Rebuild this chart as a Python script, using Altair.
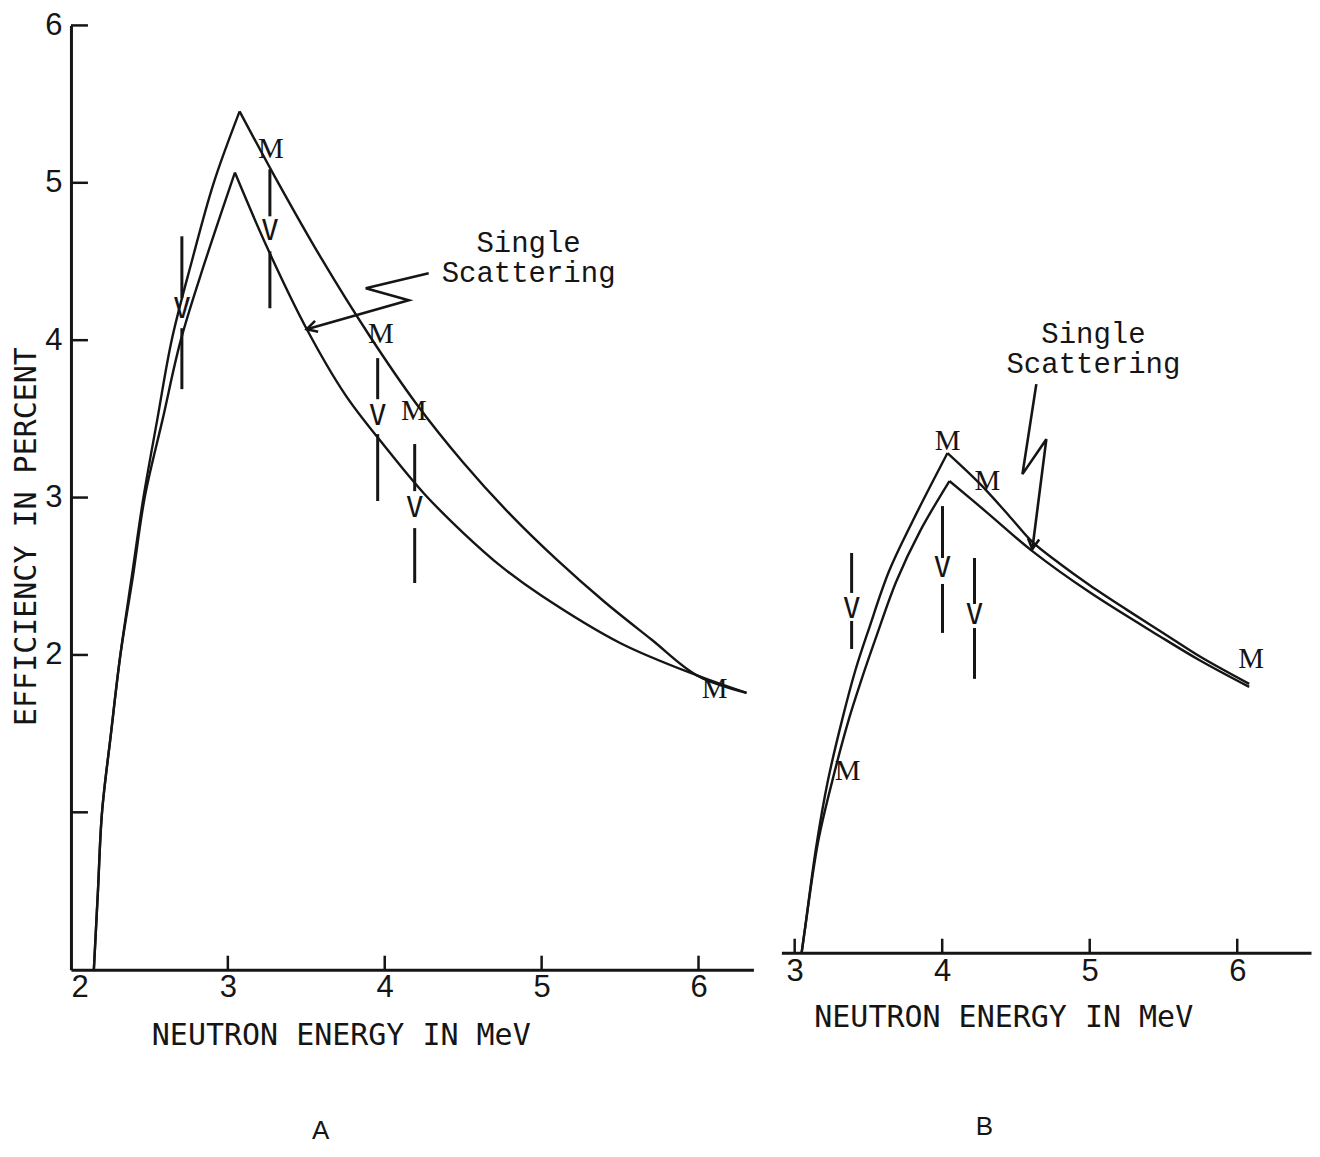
import altair as alt
import pandas as pd

INK = "#151515"

# ---------------- Panel A ----------------
A_UP_L_X = [2.146, 2.172, 2.198, 2.255, 2.315, 2.388, 2.462, 2.551, 2.642, 2.77, 2.91, 3.075]
A_UP_L_Y = [0.0, 0.5, 1.0, 1.5, 2.0, 2.5, 3.0, 3.5, 4.0, 4.5, 5.0, 5.454]
A_UP_R_X = [3.075, 3.3, 3.6, 3.9, 4.2, 4.5, 4.8, 5.1, 5.4, 5.7, 5.99, 6.306]
A_UP_R_Y = [5.454, 5.038, 4.513, 4.033, 3.598, 3.223, 2.893, 2.602, 2.338, 2.098, 1.87, 1.759]
A_LO_L_X = [2.146, 2.172, 2.198, 2.255, 2.315, 2.395, 2.47, 2.585, 2.70, 2.855, 3.045]
A_LO_L_Y = [0.0, 0.5, 1.0, 1.5, 2.0, 2.5, 3.0, 3.5, 4.0, 4.5, 5.065]
A_LO_R_X = [3.045, 3.25, 3.5, 3.75, 4.0, 4.25, 4.5, 4.75, 5.0, 5.5, 5.99, 6.306]
A_LO_R_Y = [5.065, 4.59, 4.076, 3.651, 3.326, 3.026, 2.776, 2.556, 2.376, 2.076, 1.87, 1.759]

A_M_X = [3.274, 3.975, 4.185, 6.102]
A_M_Y = [5.213, 4.038, 3.549, 1.784]

A_V_X = [2.707, 3.268, 3.955, 4.191]
A_V_TOP1 = [4.66, 5.086, 3.886, 3.34]
A_V_TOP2 = [4.267, 4.787, 3.625, 3.041]
A_V_MID = [4.197, 4.692, 3.517, 2.933]
A_V_BOT1 = [4.076, 4.565, 3.403, 2.806]
A_V_BOT2 = [3.689, 4.203, 2.978, 2.457]

A_NOTE = ["Single\nScattering"]
A_NOTE_X = [4.917]
A_NOTE_Y = [4.62]
A_ARROW_X = [4.28, 3.879, 4.153, 3.503]
A_ARROW_Y = [4.425, 4.33, 4.254, 4.07]

A_XTICKS = [3, 4, 5, 6]
A_YTICKS = [1, 2, 3, 4, 5, 6]
A_XLABELS = [2, 3, 4, 5, 6]
A_YLABELS = [2, 3, 4, 5, 6]
A_TAG = ["A"]
A_TAG_X = [3.592]
A_TAG_Y = [-1.022]

# ---------------- Panel B ----------------
B_UP_L_X = [3.047, 3.068, 3.145, 3.225, 3.325, 3.41, 3.505, 3.64, 3.8, 4.036]
B_UP_L_Y = [0.0, 0.14, 0.667, 1.092, 1.492, 1.79, 2.063, 2.425, 2.743, 3.175]
B_UP_R_X = [4.036, 4.25, 4.45, 4.611, 4.8, 5.0, 5.25, 5.5, 5.75, 6.081]
B_UP_R_Y = [3.175, 2.985, 2.78, 2.61, 2.47, 2.335, 2.18, 2.03, 1.88, 1.708]
B_LO_L_X = [3.047, 3.068, 3.16, 3.255, 3.37, 3.45, 3.55, 3.69, 3.85, 4.049]
B_LO_L_Y = [0.0, 0.14, 0.711, 1.092, 1.492, 1.727, 2.0, 2.362, 2.679, 2.997]
B_LO_R_X = [4.049, 4.3, 4.611, 5.0, 5.471, 5.742, 6.081]
B_LO_R_Y = [2.997, 2.80, 2.552, 2.29, 2.013, 1.86, 1.689]

B_M_X = [3.359, 4.036, 4.307, 6.094]
B_M_Y = [1.156, 3.251, 2.997, 1.867]

B_V_X = [3.386, 4.002, 4.219]
B_V_TOP1 = [2.54, 2.838, 2.508]
B_V_TOP2 = [2.286, 2.508, 2.216]
B_V_MID = [2.184, 2.444, 2.146]
B_V_BOT1 = [2.108, 2.343, 2.063]
B_V_BOT2 = [1.93, 2.032, 1.74]

B_NOTE = ["Single\nScattering"]
B_NOTE_X = [5.025]
B_NOTE_Y = [3.93]
B_ARROW_X = [4.638, 4.544, 4.706, 4.611]
B_ARROW_Y = [3.613, 3.041, 3.263, 2.565]

B_XTICKS = [3, 4, 5, 6]
B_XLABELS = [3, 4, 5, 6]
B_TAG = ["B"]
B_TAG_X = [4.286]
B_TAG_Y = [-1.105]

X_TITLE = "NEUTRON ENERGY IN MeV"
Y_TITLE = "EFFICIENCY IN PERCENT"

CHEVRON = "M -1 -0.55 L 0 0 L -1 0.55"


def curves(branches):
    rows = []
    for name, xs, ys in branches:
        for i, (x, y) in enumerate(zip(xs, ys)):
            rows.append({"seg": name, "i": i, "x": x, "y": y})
    return pd.DataFrame(rows)


def vmarks(xs, t1, t2, mid, b1, b2):
    segs = []
    for x, a, b, c, d in zip(xs, t1, t2, b1, b2):
        segs.append({"x": x, "y": a, "y2": b})
        segs.append({"x": x, "y": c, "y2": d})
    vs = pd.DataFrame({"x": xs, "y": mid, "t": ["V"] * len(xs)})
    return pd.DataFrame(segs), vs


def panel(xe, ye, curve_df, m_x, m_y, vseg, vtxt, note, nx, ny, ax, ay, arrow_angle,
          xticks, tag, tx, ty, yticks=None, w=100, h=100):
    line = alt.Chart(curve_df).mark_line(
        color=INK, strokeWidth=2.4, interpolate="catmull-rom"
    ).encode(x=xe, y=ye, detail="seg:N", order="i:Q")

    mdf = pd.DataFrame({"x": m_x, "y": m_y, "t": ["M"] * len(m_x)})
    mtext = alt.Chart(mdf).mark_text(
        font="Liberation Serif", fontSize=29, color=INK, baseline="middle", align="center"
    ).encode(x=xe, y=ye, text="t:N")

    vrule = alt.Chart(vseg).mark_rule(color=INK, strokeWidth=3).encode(x=xe, y=ye, y2="y2:Q")
    vt = alt.Chart(vtxt).mark_text(
        font="DejaVu Sans Mono", fontSize=29, color=INK, baseline="middle", align="center"
    ).encode(x=xe, y=ye, text="t:N")

    ndf = pd.DataFrame({"x": nx, "y": ny, "t": note})
    ntext = alt.Chart(ndf).mark_text(
        font="Liberation Mono", fontSize=29, color=INK, baseline="middle", align="center",
        lineBreak="\n", lineHeight=30,
    ).encode(x=xe, y=ye, text="t:N")

    adf = pd.DataFrame({"x": ax, "y": ay, "i": list(range(len(ax)))})
    aline = alt.Chart(adf).mark_line(color=INK, strokeWidth=2.6).encode(x=xe, y=ye, order="i:Q")
    ahead = alt.Chart(adf.tail(1)).mark_point(
        shape=CHEVRON, size=420, filled=False, color=INK, strokeWidth=2.6, opacity=1
    ).encode(x=xe, y=ye, angle=alt.value(arrow_angle))

    xt = alt.Chart(pd.DataFrame({"x": xticks})).mark_rule(color=INK, strokeWidth=2.5).encode(
        x=xe, y=alt.value(h), y2=alt.value(h - 14)
    )

    tdf = pd.DataFrame({"x": tx, "y": ty, "t": tag})
    ttext = alt.Chart(tdf).mark_text(
        font="Liberation Sans", fontSize=26, color=INK, baseline="middle", align="center"
    ).encode(x=xe, y=ye, text="t:N")

    layers = [line, mtext, vrule, vt, ntext, aline, ahead, xt, ttext]
    if yticks is not None:
        yt = alt.Chart(pd.DataFrame({"y": yticks})).mark_rule(color=INK, strokeWidth=2.5).encode(
            y=ye, x=alt.value(0), x2=alt.value(17)
        )
        layers.append(yt)
    return alt.layer(*layers).properties(width=w, height=h)


LABEL_SIZE = 31

# ---- Panel A encodings
A_W, A_H = 683, 945
xA = alt.X(
    "x:Q",
    scale=alt.Scale(domain=[2, 6.35], nice=False, zero=False),
    axis=alt.Axis(
        values=A_XLABELS, format="d", ticks=False, grid=False,
        domainWidth=3, domainColor=INK,
        labelFont="Liberation Sans", labelFontSize=LABEL_SIZE, labelPadding=3, labelColor=INK,
        title=X_TITLE, titleFont="DejaVu Sans Mono", titleFontSize=30, titleFontWeight="normal",
        titleColor=INK, titleX=270, titleY=66, titleBaseline="middle", titleAnchor="middle",
    ),
)
yA = alt.Y(
    "y:Q",
    scale=alt.Scale(domain=[0, 6], nice=False, zero=False),
    axis=alt.Axis(
        values=A_YLABELS, format="d", ticks=False, grid=False,
        domainWidth=3, domainColor=INK,
        labelFont="Liberation Sans", labelFontSize=LABEL_SIZE, labelPadding=9, labelColor=INK,
        title=Y_TITLE, titleFont="DejaVu Sans Mono", titleFontSize=30, titleFontWeight="normal",
        titleColor=INK, titleX=-44, titleY=511, titleBaseline="middle", titleAngle=270,
    ),
)

A_seg, A_vt = vmarks(A_V_X, A_V_TOP1, A_V_TOP2, A_V_MID, A_V_BOT1, A_V_BOT2)
A_curves = curves([
    ("upL", A_UP_L_X, A_UP_L_Y), ("upR", A_UP_R_X, A_UP_R_Y),
    ("loL", A_LO_L_X, A_LO_L_Y), ("loR", A_LO_R_X, A_LO_R_Y),
])
chartA = panel(xA, yA, A_curves, A_M_X, A_M_Y, A_seg, A_vt, A_NOTE, A_NOTE_X, A_NOTE_Y,
               A_ARROW_X, A_ARROW_Y, 164, A_XTICKS, A_TAG, A_TAG_X, A_TAG_Y,
               yticks=A_YTICKS, w=A_W, h=A_H)

# ---- Panel B encodings
B_W, B_H = 530, 928
xB = alt.X(
    "x:Q",
    scale=alt.Scale(domain=[2.91, 6.5], nice=False, zero=False),
    axis=alt.Axis(
        values=B_XLABELS, format="d", ticks=False, grid=False,
        domainWidth=3, domainColor=INK,
        labelFont="Liberation Sans", labelFontSize=LABEL_SIZE, labelPadding=4, labelColor=INK,
        title=X_TITLE, titleFont="DejaVu Sans Mono", titleFontSize=30, titleFontWeight="normal",
        titleColor=INK, titleX=222, titleY=65, titleBaseline="middle", titleAnchor="middle",
    ),
)
yB = alt.Y("y:Q", scale=alt.Scale(domain=[0, 5.892], nice=False, zero=False), axis=None)

B_seg, B_vt = vmarks(B_V_X, B_V_TOP1, B_V_TOP2, B_V_MID, B_V_BOT1, B_V_BOT2)
B_curves = curves([
    ("upL", B_UP_L_X, B_UP_L_Y), ("upR", B_UP_R_X, B_UP_R_Y),
    ("loL", B_LO_L_X, B_LO_L_Y), ("loR", B_LO_R_X, B_LO_R_Y),
])
chartB = panel(xB, yB, B_curves, B_M_X, B_M_Y, B_seg, B_vt, B_NOTE, B_NOTE_X, B_NOTE_Y,
               B_ARROW_X, B_ARROW_Y, 97, B_XTICKS, B_TAG, B_TAG_X, B_TAG_Y,
               yticks=None, w=B_W, h=B_H)

chart = (
    alt.hconcat(chartA, chartB, spacing=26)
    .resolve_scale(x="independent", y="independent")
    .properties(padding={"left": 3, "top": 0, "right": 0, "bottom": 0}, background="white")
    .configure_view(stroke="transparent")
    .configure_axis(grid=False)
)

chart.save("out.html", embed_options={"renderer": "svg", "actions": False})
